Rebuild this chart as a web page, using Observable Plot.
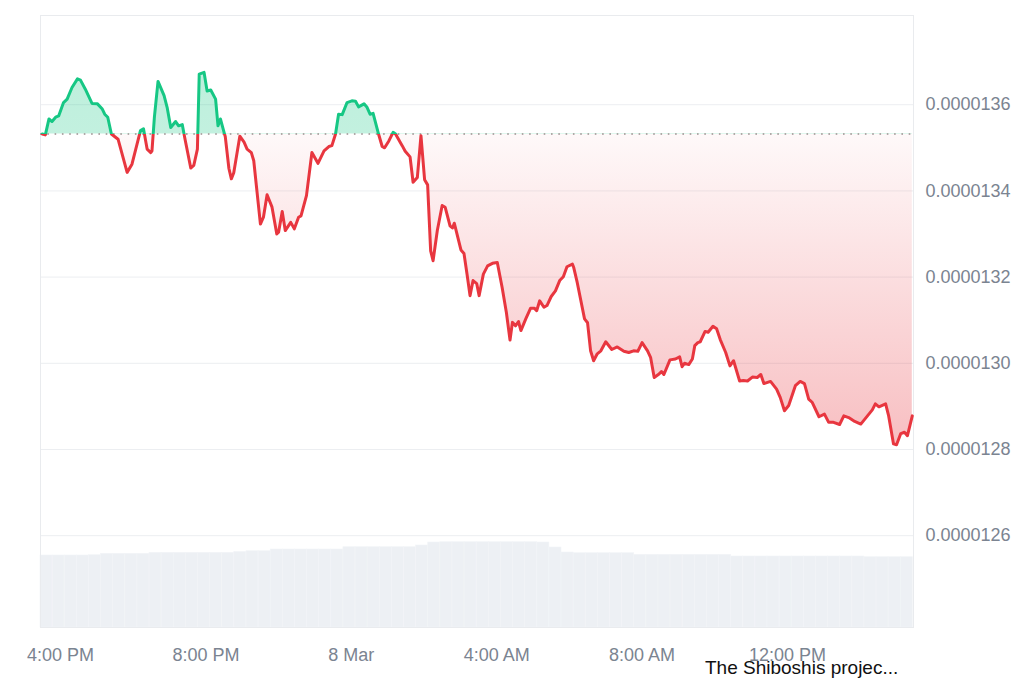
<!DOCTYPE html>
<html>
<head>
<meta charset="utf-8">
<script src="https://cdn.jsdelivr.net/npm/d3@7"></script>
<script src="https://cdn.jsdelivr.net/npm/@observablehq/plot@0.6"></script>
<style>
  body { margin: 0; background: #fff; }
  #wrap { position: relative; width: 1024px; height: 683px; overflow: hidden; font-family: "Liberation Sans", Arial, sans-serif; }
  #wrap svg { position: absolute; left: 0; top: 0; }
  #caption { position: absolute; left: 705px; top: 658px; font-size: 19px; line-height: 19px; color: #111; white-space: nowrap; }
</style>
</head>
<body>
<div id="wrap"><div id="caption">The Shiboshis projec...</div></div>
<script>
// ---- data ----
const startTime = new Date(2024, 2, 7, 15, 27);
const endTime = new Date(2024, 2, 8, 15, 28);

// minutes after startTime
const minutes = [3,8,14,19,25,30,38,44,52,61,
66,74,85,94,102,106,111,117,128,143,
151,165,170,176,182,184,188,194,204,209,
215,223,228,234,238,248,253,259,262,270,
275,281,289,293,297,303,305,311,315,
319,329,336,341,348,352,363,368,374,382,
390,393,399,404,413,419,426,430,439,448,
458,468,476,481,487,492,498,506,514,520,
525,534,539,544,549,558,564,568,575,582,
586,597,602,610,615,622,628,634,639,644,
648,655,663,668,676,680,683,694,699,704,
709,714,720,724,731,738,746,754,762,769,
775,779,784,789,793,801,809,815,819,824,
831,836,843,850,857,863,869,878,880,886,
898,903,908,913,919,925,933,943,952,963,
971,979,986,993,1002,1007,1013,1021,1025,1029,
1039,1048,1055,1059,1063,1070,1076,1080,1085,1089,
1097,1102,1110,1116,1122,1131,1138,1144,1154,1160,
1167,1175,1183,1189,1194,1205,1215,1221,1228,1235,
1246,1254,1261,1268,1274,1285,1294,1301,1309,1319,
1326,1334,1344,1354,1365,1373,1378,1384,1395,1400,
1408,1413,1420,1426,1431,1439];

// price in USD
const price = [135.32e-7,135.30e-7,135.67e-7,135.61e-7,135.71e-7,135.74e-7,136.05e-7,136.13e-7,136.40e-7,136.60e-7,
136.57e-7,136.36e-7,136.03e-7,136.02e-7,135.90e-7,135.78e-7,135.71e-7,135.32e-7,135.20e-7,134.43e-7,
134.62e-7,135.40e-7,135.44e-7,134.97e-7,134.89e-7,134.93e-7,135.71e-7,136.54e-7,136.21e-7,135.94e-7,
135.47e-7,135.61e-7,135.51e-7,135.54e-7,135.24e-7,134.53e-7,134.59e-7,134.97e-7,136.71e-7,136.75e-7,
136.32e-7,136.34e-7,136.13e-7,135.51e-7,135.67e-7,135.36e-7,135.26e-7,134.52e-7,134.28e-7,
134.42e-7,135.27e-7,135.13e-7,134.97e-7,134.89e-7,134.70e-7,133.23e-7,133.39e-7,133.91e-7,133.63e-7,
133.00e-7,133.04e-7,133.52e-7,133.08e-7,133.27e-7,133.12e-7,133.39e-7,133.42e-7,133.89e-7,134.89e-7,
134.64e-7,134.93e-7,135.03e-7,135.05e-7,135.32e-7,135.78e-7,135.77e-7,136.05e-7,136.09e-7,136.08e-7,
135.95e-7,136.02e-7,135.94e-7,135.78e-7,135.80e-7,135.32e-7,135.03e-7,135.00e-7,135.16e-7,135.36e-7,
135.32e-7,135.05e-7,134.92e-7,134.79e-7,134.20e-7,134.31e-7,135.28e-7,134.26e-7,134.14e-7,132.61e-7,
132.38e-7,133.08e-7,133.66e-7,133.62e-7,133.19e-7,133.14e-7,133.25e-7,132.63e-7,132.55e-7,132.07e-7,
131.57e-7,131.92e-7,131.85e-7,131.57e-7,132.07e-7,132.26e-7,132.32e-7,132.34e-7,131.76e-7,131.18e-7,
130.54e-7,130.95e-7,130.87e-7,130.97e-7,130.76e-7,131.03e-7,131.28e-7,131.28e-7,131.22e-7,131.45e-7,
131.30e-7,131.34e-7,131.55e-7,131.68e-7,131.92e-7,132.01e-7,132.24e-7,132.30e-7,132.23e-7,131.87e-7,
131.03e-7,130.94e-7,130.29e-7,130.06e-7,130.22e-7,130.29e-7,130.50e-7,130.32e-7,130.38e-7,130.28e-7,
130.25e-7,130.29e-7,130.28e-7,130.48e-7,130.29e-7,130.14e-7,129.67e-7,129.75e-7,129.81e-7,129.74e-7,
130.08e-7,130.10e-7,130.15e-7,129.92e-7,130.00e-7,129.97e-7,130.10e-7,130.41e-7,130.48e-7,130.50e-7,
130.74e-7,130.72e-7,130.86e-7,130.80e-7,130.55e-7,130.25e-7,129.94e-7,130.06e-7,129.59e-7,129.60e-7,
129.59e-7,129.68e-7,129.67e-7,129.74e-7,129.53e-7,129.58e-7,129.40e-7,129.21e-7,128.90e-7,129.02e-7,
129.48e-7,129.58e-7,129.53e-7,129.17e-7,129.09e-7,128.76e-7,128.82e-7,128.63e-7,128.63e-7,128.58e-7,
128.78e-7,128.74e-7,128.65e-7,128.59e-7,128.78e-7,128.92e-7,129.06e-7,128.99e-7,129.06e-7,128.78e-7,
128.13e-7,128.11e-7,128.37e-7,128.40e-7,128.32e-7,128.78e-7];

// relative 24h volume, one bar per 20 minutes
const volumeStepMinutes = 20;
const volume = [72,72,72,72,72.3,73.7,73.7,73.7,73.7,74.7,
74.7,74.7,74.7,74.7,74.7,74.7,75.5,76.3,76.3,78,
78,78,78,78,78,80.3,80.3,80.3,80.3,80.3,
80.3,82,85,85.3,85.3,85.3,85.3,85.3,85.3,85.3,
85.3,85,80,75,74.3,74.3,74.3,74.3,74.3,72.7,
72.7,72.7,72.7,72.7,72.7,72.7,72.7,71,71,71,
71,71,71,71,71,71,71,71,70.3,70.3,
70.3,70.3];

const yTicks = [126e-7, 128e-7, 130e-7, 132e-7, 134e-7, 136e-7];
const yDomain = [123.87e-7, 138.07e-7];
const xTickTimes = [new Date(2024,2,7,16), new Date(2024,2,7,20), new Date(2024,2,8,0),
                    new Date(2024,2,8,4), new Date(2024,2,8,8), new Date(2024,2,8,12)];
const xTickLabels = ["4:00 PM", "8:00 PM", "8 Mar", "4:00 AM", "8:00 AM", "12:00 PM"];

// ---- build tables ----
const series = minutes.map((m, i) => ({date: new Date(+startTime + m * 60000), price: price[i]}));
const baseline = price[0];
const volData = volume.map((v, i) => ({
  start: new Date(+startTime + i * volumeStepMinutes * 60000),
  end: new Date(+startTime + (i + 1) * volumeStepMinutes * 60000),
  vol: v
}));

const GREEN = "#16c784", RED = "#e8363f";
const W = 1024, H = 683, ML = 40, MR = 111, MT = 15, MB = 56;
const font = {fontFamily: "'Liberation Sans', Arial, Helvetica, sans-serif", fontSize: "18px", background: "transparent", overflow: "visible"};

// ---- volume layer (below) ----
const volPlot = Plot.plot({
  width: W, height: H, marginLeft: ML, marginRight: MR, marginTop: 527, marginBottom: MB,
  style: font,
  x: {domain: [startTime, endTime], axis: null},
  y: {domain: [0, 100], axis: null},
  marks: [
    Plot.rectY(volData, {x1: "start", x2: "end", y: "vol", fill: "#edf0f4", stroke: "#f2f4f7", strokeWidth: 0.6})
  ]
});

// ---- gradients ----
function gradients(index, scales, values, dims) {
  const y = scales.y;
  const top = dims.marginTop, bottom = dims.height - dims.marginBottom;
  const yb = y(baseline);
  const yLow = y(d3.min(price));
  const defs = d3.create("svg:defs");
  const lg = defs.append("linearGradient").attr("id", "lineGrad")
    .attr("gradientUnits", "userSpaceOnUse").attr("x1", 0).attr("x2", 0).attr("y1", top).attr("y2", bottom);
  const o = (yb - top) / (bottom - top);
  lg.append("stop").attr("offset", 0).attr("stop-color", GREEN);
  lg.append("stop").attr("offset", o).attr("stop-color", GREEN);
  lg.append("stop").attr("offset", o).attr("stop-color", RED);
  lg.append("stop").attr("offset", 1).attr("stop-color", RED);
  const fg = defs.append("linearGradient").attr("id", "fillGrad")
    .attr("gradientUnits", "userSpaceOnUse").attr("x1", 0).attr("x2", 0).attr("y1", top).attr("y2", yLow);
  const o2 = (yb - top) / (yLow - top);
  fg.append("stop").attr("offset", 0).attr("stop-color", GREEN).attr("stop-opacity", 0.3);
  fg.append("stop").attr("offset", o2).attr("stop-color", GREEN).attr("stop-opacity", 0.26);
  fg.append("stop").attr("offset", o2).attr("stop-color", RED).attr("stop-opacity", 0.03);
  fg.append("stop").attr("offset", 1).attr("stop-color", RED).attr("stop-opacity", 0.32);
  return defs.node();
}

// ---- price layer (top) ----
const mainPlot = Plot.plot({
  width: W, height: H, marginLeft: ML, marginRight: MR, marginTop: MT, marginBottom: MB,
  style: font,
  x: {domain: [startTime, endTime], label: null},
  y: {domain: yDomain, label: null},
  marks: [
    gradients,
    Plot.ruleY(yTicks, {stroke: "#eceef1", strokeWidth: 1}),
    Plot.frame({stroke: "#e9ebee", strokeWidth: 1}),
    Plot.areaY(series, {x: "date", y1: baseline, y2: "price", fill: "url(#fillGrad)", curve: "linear"}),
    Plot.ruleY([baseline], {stroke: "#9a8f8f", strokeWidth: 1.6, strokeDasharray: "1.6 5.7"}),
    Plot.line(series, {x: "date", y: "price", stroke: "url(#lineGrad)", strokeWidth: 3, curve: "linear", strokeLinejoin: "round"}),
    Plot.axisY(yTicks, {anchor: "right", label: null, tickSize: 0, tickPadding: 12, tickFormat: d3.format(".7f"), color: "#7b8491", fontSize: 18}),
    Plot.axisX(xTickTimes, {anchor: "bottom", label: null, tickSize: 0, tickPadding: 21,
      tickFormat: d => xTickLabels[xTickTimes.findIndex(t => +t === +d)], color: "#7b8491", fontSize: 18})
  ]
});

const wrap = document.getElementById("wrap");
wrap.insertBefore(mainPlot, wrap.firstChild);
wrap.insertBefore(volPlot, wrap.firstChild);
</script>
</body>
</html>
